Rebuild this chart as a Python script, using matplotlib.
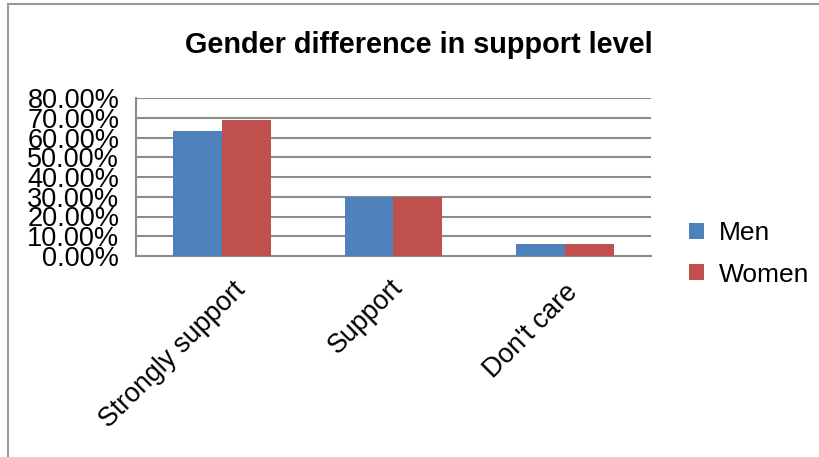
import matplotlib
matplotlib.use("Agg")
from matplotlib import pyplot as plt
from matplotlib import transforms
from matplotlib.patches import Rectangle
from matplotlib.ticker import FuncFormatter
import numpy as np

# data
categories = ["Strongly support", "Support", "Don't care"]
men = [0.633, 0.30, 0.06]
women = [0.69, 0.30, 0.06]
y_ticks = [0.0, 0.1, 0.2, 0.3, 0.4, 0.5, 0.6, 0.7, 0.8]

plt.rcParams['font.family'] = ['Liberation Sans', 'DejaVu Sans']

fig = plt.figure(figsize=(8.2, 4.57), dpi=100)
ax = fig.add_axes([136 / 820, 1 - 256 / 457, (651 - 136) / 820, (256 - 98) / 457])

x = np.arange(len(categories)) + 0.5
w = 0.285
ax.bar(x - w / 2, men, w, color='#4F81BD', label='Men', zorder=3)
ax.bar(x + w / 2, women, w, color='#C0504D', label='Women', zorder=3)

ax.set_xlim(0, 3)
ax.set_ylim(0, 0.8)
ax.set_yticks(y_ticks)
ax.yaxis.set_major_formatter(FuncFormatter(lambda v, p: f"{v * 100:.2f}%"))
ax.grid(axis='y', color='#8c8c8c', linewidth=1.5, zorder=0)
ax.set_axisbelow(True)

for s in ['top', 'right']:
    ax.spines[s].set_visible(False)
for s in ['left', 'bottom']:
    ax.spines[s].set_color('#8c8c8c')
    ax.spines[s].set_linewidth(1.5)

ax.tick_params(axis='y', length=0, pad=12, labelsize=19.5)
ax.tick_params(axis='x', length=0)

# rotated category labels, Excel-style placement
ax.set_xticks(x)
ax.set_xticklabels(categories, rotation=45, ha='right', va='center',
                   rotation_mode='anchor', fontsize=19.3)
shifts = [(20, -25), (5, -23), (9, -28)]
for lbl, (dx, dy) in zip(ax.get_xticklabels(), shifts):
    lbl.set_transform(lbl.get_transform() +
                      transforms.ScaledTranslation(dx / 100, dy / 100, fig.dpi_scale_trans))

fig.text(419 / 820, 1 - 45 / 457, "Gender difference in support level",
         ha='center', va='center', fontsize=20.8, fontweight='bold')

ax.legend(loc='center left', bbox_to_anchor=(689 / 820, 1 - 254 / 457),
          bbox_transform=fig.transFigure, frameon=False, fontsize=19,
          handlelength=0.55, handleheight=0.55, handletextpad=0.6,
          labelspacing=0.65, borderpad=0, borderaxespad=0)

# outer chart frame
fig.patches.append(Rectangle((8 / 820, -0.1), 1.2, 1 - 4 / 457 + 0.1,
                             transform=fig.transFigure, fill=False,
                             edgecolor='#999999', linewidth=1.5))

plt.savefig('out.png', dpi=100)
